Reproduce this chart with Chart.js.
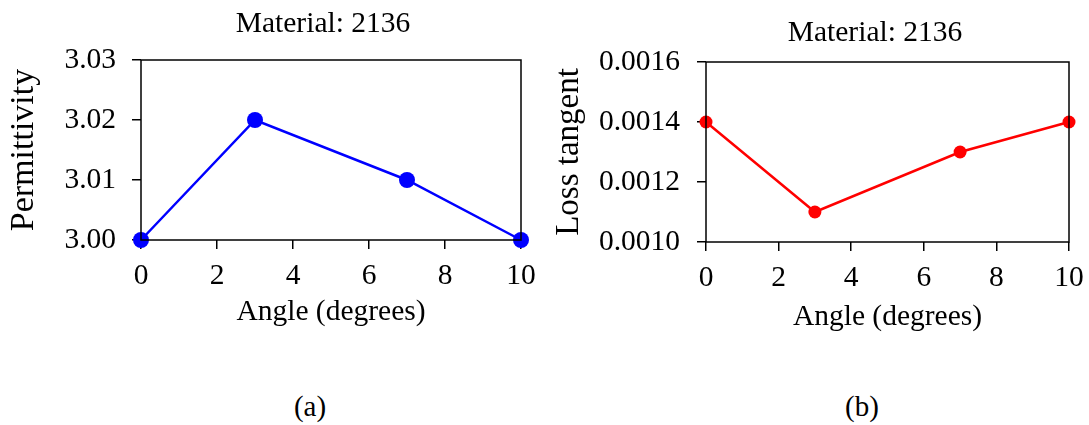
<!DOCTYPE html>
<html>
<head>
<meta charset="utf-8">
<title>Material 2136 — permittivity and loss tangent vs angle</title>
<script src="https://cdn.jsdelivr.net/npm/chart.js@4/dist/chart.umd.min.js"></script>
<style>
  html, body { margin: 0; padding: 0; background: #fff; }
  #wrap { position: relative; width: 1089px; height: 425px; overflow: hidden; font-family: "Liberation Serif", "Times New Roman", serif; color: #000; }
  canvas { position: absolute; top: 0; }
  #permCanvas { left: 0; }
  #lossCanvas { left: 545px; }
  .label { position: absolute; white-space: nowrap; transform: translateX(-50%); }
  .title { font-size: 29.5px; }
  .panel { font-size: 29px; }
</style>
</head>
<body>
<div id="wrap">
  <canvas id="permCanvas" width="545" height="345"></canvas>
  <canvas id="lossCanvas" width="544" height="345"></canvas>
  <div class="label title" style="left:323px; top:6px;">Material: 2136</div>
  <div class="label title" style="left:875px; top:15px;">Material: 2136</div>
  <div class="label panel" style="left:310px; top:390px;">(a)</div>
  <div class="label panel" style="left:862px; top:390px;">(b)</div>
</div>
<script>
// measured angles (degrees) and the two dielectric properties
const angles = [0, 3, 7, 10];
const permittivity = [3.00, 3.02, 3.01, 3.00];
const lossTangent = [0.0014, 0.0011, 0.0013, 0.0014];

const angleTicks = [0, 2, 4, 6, 8, 10];
const permTicks = [3.00, 3.01, 3.02, 3.03];
const lossTicks = [0.0010, 0.0012, 0.0014, 0.0016];

const SERIF = '"Liberation Serif", "Times New Roman", serif';

// outline the whole plot area, the axes only give left/bottom
const frame = {
  id: 'frame',
  afterDraw(chart) {
    const { ctx, chartArea: a } = chart;
    ctx.save();
    ctx.strokeStyle = '#000';
    ctx.lineWidth = 1.5;
    ctx.strokeRect(a.left, a.top, a.right - a.left, a.bottom - a.top);
    ctx.restore();
  }
};

function makeChart(id, opts) {
  const pts = angles.map((x, i) => ({ x, y: opts.values[i] }));
  return new Chart(document.getElementById(id), {
    type: 'line',
    data: {
      datasets: [{
        data: pts,
        borderColor: opts.color,
        backgroundColor: opts.color,
        borderWidth: 2.5,
        pointRadius: opts.radius,
        pointHoverRadius: opts.radius,
        pointBorderWidth: 0,
        tension: 0,
        clip: false
      }]
    },
    options: {
      responsive: false,
      animation: false,
      events: [],
      layout: { padding: { top: opts.top, right: opts.right, left: 0, bottom: 0 } },
      plugins: { legend: { display: false }, tooltip: { enabled: false }, title: { display: false } },
      scales: {
        x: {
          type: 'linear',
          min: 0, max: 10,
          afterBuildTicks: s => { s.ticks = angleTicks.map(v => ({ value: v })); },
          afterFit: s => { s.height = opts.xHeight; s.paddingLeft = 0; s.paddingRight = 0; },
          grid: { drawOnChartArea: false, tickLength: 9, color: '#000', lineWidth: 1.5 },
          border: { display: false },
          ticks: { color: '#000', padding: 10, maxRotation: 0, font: { family: SERIF, size: 29.5 } },
          title: { display: true, text: 'Angle (degrees)', color: '#000', font: { family: SERIF, size: 29.5 }, padding: { top: 0, bottom: opts.xTitlePad } }
        },
        y: {
          type: 'linear',
          min: opts.ticks[0], max: opts.ticks[opts.ticks.length - 1],
          afterBuildTicks: s => { s.ticks = opts.ticks.map(v => ({ value: v })); },
          afterFit: s => { s.width = opts.yWidth; s.paddingTop = 0; s.paddingBottom = 0; },
          grid: { drawOnChartArea: false, tickLength: 9, color: '#000', lineWidth: 1.5 },
          border: { display: false },
          ticks: { color: '#000', padding: opts.yPad, font: { family: SERIF, size: 29.5 }, callback: v => Number(v).toFixed(opts.digits) },
          title: { display: true, text: opts.yTitle, color: '#000', font: { family: SERIF, size: opts.yTitleSize }, padding: { top: opts.yTitlePad, bottom: 0 } }
        }
      }
    },
    plugins: [frame]
  });
}

makeChart('permCanvas', {
  values: permittivity, ticks: permTicks, digits: 2, color: '#0000ff', radius: 8,
  yTitle: 'Permittivity', yTitleSize: 34, yTitlePad: 4, yPad: 16,
  top: 60, right: 24, yWidth: 141, xHeight: 105, xTitlePad: 15
});

makeChart('lossCanvas', {
  values: lossTangent, ticks: lossTicks, digits: 4, color: '#ff0000', radius: 6.5,
  yTitle: 'Loss tangent', yTitleSize: 33, yTitlePad: 5, yPad: 17,
  top: 62, right: 20, yWidth: 161, xHeight: 103, xTitlePad: 10
});
</script>
</body>
</html>
